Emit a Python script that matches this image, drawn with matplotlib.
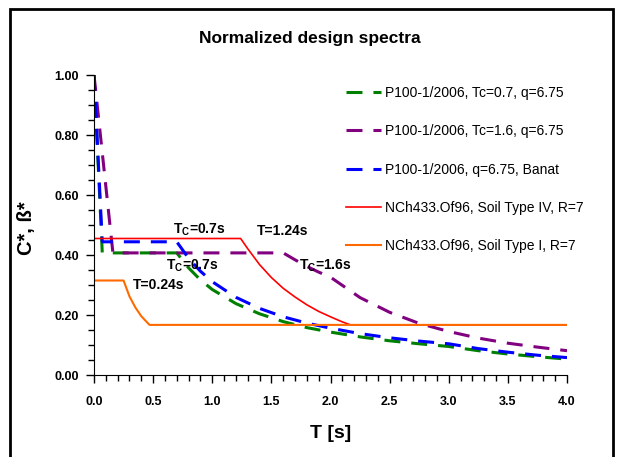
import matplotlib
matplotlib.use("Agg")
import matplotlib.pyplot as plt
from matplotlib.patches import Rectangle
from matplotlib.ticker import MultipleLocator

plt.rcParams['font.family'] = ['Liberation Sans', 'DejaVu Sans']
plt.rcParams['mathtext.fontset'] = 'custom'
plt.rcParams['mathtext.rm'] = 'Liberation Sans'
plt.rcParams['mathtext.bf'] = 'Liberation Sans:bold'
plt.rcParams['lines.scale_dashes'] = False

# P100-1/2006, Tc=0.7, q=6.75
p100_07_T = [0, 0.07, 0.7, 0.8, 0.9, 1.0, 1.2, 1.4, 1.6, 1.8, 2.0, 2.25, 2.5, 2.75, 3.0, 3.25, 3.5, 3.75, 4.0]
p100_07_C = [1.00, 0.407, 0.407, 0.357, 0.317, 0.285, 0.238, 0.204, 0.178, 0.158, 0.143, 0.127, 0.114, 0.104, 0.095, 0.081, 0.070, 0.061, 0.053]

# P100-1/2006, Tc=1.6, q=6.75
p100_16_T = [0, 0.16, 1.6, 1.7, 1.8, 1.9, 2.0, 2.25, 2.5, 2.75, 3.0, 3.25, 3.5, 3.75, 4.0]
p100_16_C = [1.00, 0.407, 0.407, 0.384, 0.362, 0.343, 0.326, 0.258, 0.209, 0.172, 0.145, 0.123, 0.106, 0.093, 0.081]

# P100-1/2006, q=6.75, Banat
banat_T = [0, 0.07, 0.7, 0.8, 0.9, 1.0, 1.2, 1.4, 1.6, 1.8, 2.0, 2.25, 2.5, 2.75, 3.0, 3.25, 3.5, 3.75, 4.0]
banat_C = [1.00, 0.444, 0.444, 0.389, 0.346, 0.311, 0.259, 0.222, 0.194, 0.173, 0.156, 0.138, 0.124, 0.113, 0.104, 0.088, 0.076, 0.066, 0.058]

# NCh433.Of96, Soil Type IV, R=7
nch_iv_T = [0, 1.24, 1.3, 1.4, 1.5, 1.6, 1.7, 1.8, 1.9, 2.0, 2.1, 2.17, 4.0]
nch_iv_C = [0.455, 0.455, 0.421, 0.368, 0.325, 0.289, 0.260, 0.234, 0.212, 0.194, 0.177, 0.167, 0.167]

# NCh433.Of96, Soil Type I, R=7
nch_i_T = [0, 0.25, 0.3, 0.35, 0.4, 0.45, 0.47, 4.0]
nch_i_C = [0.315, 0.315, 0.262, 0.225, 0.196, 0.175, 0.167, 0.167]

labels = ['P100-1/2006, Tc=0.7, q=6.75',
          'P100-1/2006, Tc=1.6, q=6.75',
          'P100-1/2006, q=6.75, Banat',
          'NCh433.Of96, Soil Type IV, R=7',
          'NCh433.Of96, Soil Type I, R=7']

fig = plt.figure(figsize=(6.2, 4.57), dpi=100)
ax = fig.add_axes([94 / 620, 1 - 375 / 457, (567 - 94) / 620, 300 / 457])

dash = (11.5, 7.9)
ax.plot(p100_07_T, p100_07_C, color='#008000', lw=2.2, dashes=dash, label=labels[0])
ax.plot(p100_16_T, p100_16_C, color='#800080', lw=2.2, dashes=dash, label=labels[1])
ax.plot(banat_T, banat_C, color='#0000ff', lw=2.2, dashes=dash, label=labels[2])
ax.plot(nch_iv_T, nch_iv_C, color='#ff0000', lw=1.2, label=labels[3])
ax.plot(nch_i_T, nch_i_C, color='#ff6a00', lw=1.5, label=labels[4])

ax.set_xlim(0, 4.0)
ax.set_ylim(0, 1.0)
ax.spines['top'].set_visible(False)
ax.spines['right'].set_visible(False)
ax.xaxis.set_major_locator(MultipleLocator(0.5))
ax.xaxis.set_minor_locator(MultipleLocator(0.1))
ax.yaxis.set_major_locator(MultipleLocator(0.2))
ax.yaxis.set_minor_locator(MultipleLocator(0.05))
ax.xaxis.set_major_formatter(matplotlib.ticker.FormatStrFormatter('%.1f'))
ax.yaxis.set_major_formatter(matplotlib.ticker.FormatStrFormatter('%.2f'))
ax.tick_params(which='major', length=6, width=1, labelsize=9)
ax.tick_params(axis='x', which='major', pad=9)
ax.tick_params(axis='y', which='major', pad=5)
ax.tick_params(which='minor', length=4, width=1)
for t in ax.get_xticklabels() + ax.get_yticklabels():
    t.set_fontweight('bold')

ax.set_xlabel('T [s]', fontsize=14, fontweight='bold')
ax.set_ylabel('C*, ß*', fontsize=14.5, fontweight='bold')
ax.xaxis.set_label_coords(0.5, -0.165)
ax.yaxis.set_label_coords(-0.122, 0.49)
fig.text(0.5, 1 - 38 / 457, 'Normalized design spectra', ha='center', va='center',
         fontsize=12.5, fontweight='bold')

kw = dict(fontsize=10, fontweight='bold')
ax.text(0.667, 0.458, r'T$_\mathbf{C}$=0.7s', ha='left', va='bottom', **kw)
ax.text(1.38, 0.458, 'T=1.24s', ha='left', va='bottom', **kw)
ax.text(0.61, 0.39, r'T$_\mathbf{C}$=0.7s', ha='left', va='top', **kw)
ax.text(0.33, 0.323, 'T=0.24s', ha='left', va='top', **kw)
ax.text(1.73, 0.39, r'T$_\mathbf{C}$=1.6s', ha='left', va='top', **kw)

ax.legend(loc='upper left', bbox_to_anchor=(346 / 620, 1 - 86 / 457),
          bbox_transform=fig.transFigure, frameon=False, fontsize=10,
          handlelength=2.55, handletextpad=0.25, labelspacing=1.75,
          borderpad=0, borderaxespad=0)

fig.patches.append(Rectangle((10 / 620, -0.05), 603 / 620, 1.05 - 9 / 457,
                             transform=fig.transFigure, fill=False,
                             edgecolor='black', lw=2))

fig.savefig('out.png', dpi=100)
